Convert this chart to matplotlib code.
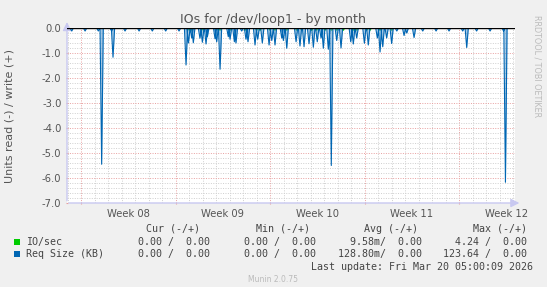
import matplotlib
matplotlib.use('Agg')
from matplotlib import pyplot as plt
from matplotlib.patches import Rectangle
import numpy as np

# time axis in days, 0 = Monday of Week 08
# blue: Req Size (KB) read (shown negative), spikes (day, value)
req_days = [-0.69, 0.30, 1.28, 1.53, 2.27, 2.37, 3.26, 4.30, 5.28, 6.27, 7.26,
            7.78, 7.96, 8.20, 8.32, 8.81, 8.99, 9.26, 9.36, 9.93, 10.05, 10.30,
            10.91, 11.04, 11.36, 11.48, 11.90, 12.22, 12.37, 12.89, 13.09, 13.43,
            13.93, 14.13, 14.37, 14.87, 14.99, 15.24, 15.93, 16.22, 16.52, 16.89,
            17.21, 17.50, 17.78, 17.95, 18.32, 18.54, 18.94, 19.26, 19.98, 20.17,
            20.42, 20.99, 21.28, 21.95, 22.15, 22.35, 22.64, 23.01, 23.39, 23.93,
            24.13, 24.67, 25.31, 26.30, 27.26, 28.27, 28.57, 29.30, 30.30, 31.30,
            31.44]
req_vals = [-0.12, -0.12, -0.12, -5.45, -0.12, -1.17, -0.12, -0.12, -0.12, -0.12, -0.12,
            -1.48, -0.60, -0.40, -0.59, -0.41, -0.57, -0.64, -0.35, -0.43, -0.55, -1.65,
            -0.35, -0.45, -0.55, -0.60, -0.12, -0.45, -0.55, -0.68, -0.45, -0.60,
            -0.68, -0.50, -0.68, -0.40, -0.50, -0.81, -0.55, -0.72, -0.75, -0.63,
            -0.77, -0.55, -0.40, -0.81, -0.85, -5.50, -0.50, -0.80, -0.55, -0.64,
            -0.40, -0.61, -0.68, -0.40, -0.96, -0.75, -0.40, -0.62, -0.12, -0.30,
            -0.20, -0.38, -0.12, -0.12, -0.12, -0.12, -0.78, -0.12, -0.12, -0.12,
            -6.17]

# green: IO/sec read, small bumps near zero
io_days = [8.02, 8.20, 8.94, 9.11, 10.17, 10.30, 11.04, 12.15, 12.27, 13.01, 13.26,
           14.00, 14.37, 15.24, 15.98, 16.35, 17.09, 17.46, 18.07, 18.57, 18.94,
           19.43, 20.17, 20.42, 21.16, 21.41, 22.15, 23.01]
io_vals = [-0.08] * len(io_days)

week_labels = ['Week 08', 'Week 09', 'Week 10', 'Week 11', 'Week 12']
week_starts = [0, 7, 14, 21, 28]

legend_names = ['IO/sec', 'Req Size (KB)']
legend_colors = ['#00CC00', '#0066B3']
cur_vals = ['0.00 /  0.00', '0.00 /  0.00']
min_vals = ['0.00 /  0.00', '0.00 /  0.00']
avg_vals = ['9.58m/  0.00', '128.80m/  0.00']
max_vals = ['4.24 /  0.00', '123.64 /  0.00']


def spikes(days, vals, hw):
    x, y = [], []
    for d, v in sorted(zip(days, vals)):
        x += [d - hw, d, d + hw]
        y += [0, v, 0]
    return np.array(x), np.array(y)


W, H = 547, 287
fig = plt.figure(figsize=(5.47, 2.87), dpi=100, facecolor='#F0F0F0')


def fx(px):
    return px / W


def fy(py):
    return 1 - py / H


ax = fig.add_axes([fx(67), fy(203), 448 / W, 175 / H])
ax.set_facecolor('white')
ax.set_xlim(-14 / 13.5, 434 / 13.5)
ax.set_ylim(-7, 0)
for s in ax.spines.values():
    s.set_visible(False)

# grid
for d in range(-1, 33):
    col = '#E8A0A0' if d in week_starts else '#CFCFCF'
    ax.axvline(d, color=col, lw=0.7, ls=(0, (1, 1.5)), zorder=1)
for v in np.arange(-7, 0.01, 0.2):
    major = abs(v - round(v)) < 1e-6
    ax.axhline(v, color='#E8A0A0' if major else '#CFCFCF', lw=0.7,
               ls=(0, (1, 1.5)), zorder=1)

# data
gx, gy = spikes(io_days, io_vals, 0.07)
ax.plot(gx, gy, color='#00CC00', lw=1.2, zorder=3)
bx, by = spikes(req_days, req_vals, 0.12)
ax.fill_between(bx, by, 0, color='#5A9BD0', alpha=0.55, lw=0, zorder=3)
ax.plot(bx, by, color='#0066B3', lw=0.8, zorder=4)
ax.axhline(0, color='black', lw=1.0, zorder=5)

ax.set_xticks(week_starts)
ax.set_xticks(range(-1, 33), minor=True)
ax.set_xticklabels([])
ax.set_yticks(range(-7, 1))
ax.set_yticklabels(['%.1f' % v for v in range(-7, 1)], color='#555555', fontsize=7.2)
ax.tick_params(axis='both', which='major', length=2, color='#E8A0A0', direction='inout', pad=3)
ax.tick_params(axis='both', which='minor', length=0)
for d, lab in zip(week_starts, week_labels):
    ax.text(d + 3.5, -7.25, lab, ha='center', va='top', fontsize=7.2, color='#555555')

# axis arrows
acol = '#C8C8F0'
ax.annotate('', xy=(1.016, 0), xytext=(-0.002, 0), xycoords='axes fraction',
            arrowprops=dict(arrowstyle='-|>,head_length=0.5,head_width=0.25', color=acol, lw=1),
            annotation_clip=False)
ax.annotate('', xy=(0, 1.05), xytext=(0, -0.003), xycoords='axes fraction',
            arrowprops=dict(arrowstyle='-|>,head_length=0.5,head_width=0.25', color=acol, lw=1),
            annotation_clip=False)

fig.text(0.5, fy(19), 'IOs for /dev/loop1 - by month', ha='center', va='center',
         fontsize=9.1, color='#555555')
fig.text(fx(10), fy(116), 'Units read (-) / write (+)', rotation=90, ha='center',
         va='center', fontsize=8, color='#555555')
fig.text(fx(537), fy(15), 'RRDTOOL / TOBI OETIKER', rotation=270, ha='center', va='top',
         fontsize=5.8, color='#BBBBBB')

mono = dict(family='DejaVu Sans Mono', fontsize=7.2, color='#444444', va='center')
hy = fy(228.5)
for txt, xl in zip(['Cur (-/+)', 'Min (-/+)', 'Avg (-/+)', 'Max (-/+)'], [146.5, 255.7, 364.5, 472.6]):
    fig.text(fx(xl), hy, txt, ha='left', **mono)
for i, name in enumerate(legend_names):
    yy = 242 + i * 12.3
    fig.patches.append(Rectangle((fx(13.5), fy(yy + 3)), 6 / W, 6 / H, transform=fig.transFigure,
                                 facecolor=legend_colors[i], edgecolor='none'))
    fig.text(fx(26), fy(yy), name, ha='left', **mono)
    for col, xr in zip([cur_vals, min_vals, avg_vals, max_vals], [209.5, 315.5, 421.5, 527]):
        fig.text(fx(xr), fy(yy), col[i], ha='right', **mono)
fig.text(fx(533), fy(266.5), 'Last update: Fri Mar 20 05:00:09 2026', ha='right', **mono)
fig.text(fx(273), fy(279.5), 'Munin 2.0.75', ha='center', va='center', fontsize=5.5, color='#BBBBBB')

fig.savefig('out.png', dpi=100, facecolor=fig.get_facecolor())
